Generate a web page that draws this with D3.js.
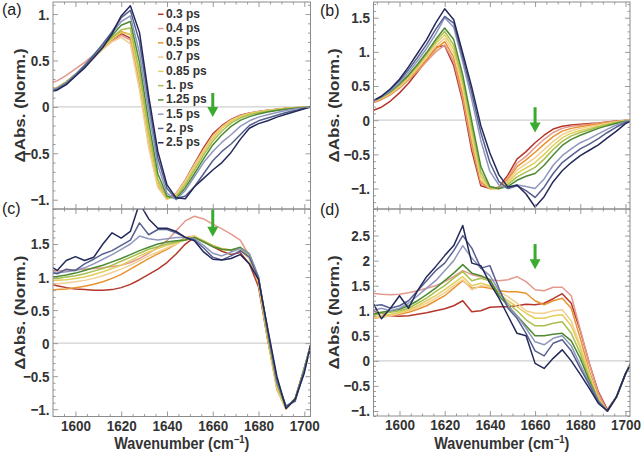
<!DOCTYPE html>
<html>
<head>
<meta charset="utf-8">
<script src="https://cdn.jsdelivr.net/npm/d3@7"></script>
<style>
  body { margin: 0; background: #fff; }
  svg { display: block; font-family: "Liberation Sans", Arial, sans-serif; }
  .tick line { stroke: #9a9a9a; }
  .tick text { font-size: 15.5px; font-weight: bold; fill: #333; }
</style>
</head>
<body>
<svg width="642" height="453"></svg>
<script>
const wavenumbers = [1588,1592,1596,1600,1604,1608,1612,1616,1620,1624,1628,1632,1636,1640,1644,
  1648,1652,1656,1660,1664,1668,1672,1676,1680,1684,1688,1692,1696,1700,1703];

const delays = ['0.3 ps','0.4 ps','0.5 ps','0.7 ps','0.85 ps','1. ps','1.25 ps','1.5 ps','2. ps','2.5 ps'];
const colors = ['#b5372c','#e5988c','#e8932f','#f2cf92','#e2cf5c','#a9bf4e','#4c8a34','#8f97bd','#56608f','#23295a'];

// (a)
const panelA = [
  [.20,.21,.26,.34,.43,.53,.63,.72,.79,.74,.25,-.38,-.84,-.99,-.94,-.79,-.61,-.44,-.29,-.20,-.135,-.09,-.065,-.05,-.035,-.025,-.015,-.008,-.003,0],
  [.25,.28,.34,.41,.48,.56,.64,.71,.77,.72,.22,-.40,-.85,-.99,-.93,-.79,-.62,-.46,-.31,-.21,-.14,-.095,-.07,-.05,-.037,-.027,-.017,-.009,-.004,0],
  [.19,.21,.27,.35,.44,.54,.64,.74,.81,.78,.30,-.34,-.82,-.99,-.95,-.80,-.63,-.47,-.32,-.22,-.145,-.10,-.07,-.052,-.038,-.027,-.017,-.009,-.004,0],
  [.19,.21,.27,.35,.44,.53,.62,.70,.75,.68,.18,-.44,-.87,-1.0,-.94,-.80,-.63,-.47,-.32,-.22,-.145,-.10,-.07,-.052,-.038,-.027,-.017,-.009,-.004,0],
  [.18,.20,.27,.35,.44,.54,.64,.73,.80,.78,.30,-.35,-.83,-.99,-.96,-.82,-.65,-.49,-.34,-.23,-.155,-.105,-.075,-.055,-.04,-.029,-.018,-.01,-.004,0],
  [.18,.20,.27,.35,.44,.54,.65,.75,.83,.85,.38,-.26,-.78,-.98,-.97,-.84,-.68,-.52,-.37,-.26,-.175,-.12,-.085,-.063,-.046,-.033,-.021,-.012,-.005,0],
  [.18,.20,.26,.35,.45,.55,.66,.77,.88,.92,.48,-.16,-.72,-.96,-.99,-.87,-.72,-.56,-.41,-.30,-.21,-.145,-.105,-.077,-.056,-.04,-.026,-.015,-.006,0],
  [.18,.20,.26,.35,.45,.56,.67,.79,.92,.98,.58,-.05,-.63,-.93,-1.0,-.90,-.75,-.60,-.48,-.38,-.30,-.21,-.15,-.11,-.085,-.06,-.04,-.022,-.009,0],
  [.17,.19,.25,.34,.44,.56,.68,.81,.96,1.04,.70,.05,-.55,-.88,-.99,-.96,-.86,-.72,-.58,-.48,-.40,-.30,-.20,-.15,-.12,-.09,-.06,-.04,-.015,0],
  [.16,.18,.24,.33,.42,.53,.64,.79,.98,1.09,.80,.12,-.48,-.84,-.98,-.99,-.86,-.77,-.68,-.60,-.49,-.35,-.23,-.18,-.15,-.11,-.08,-.05,-.02,0]
];

// (b)
const panelB = [
  [.14,.19,.28,.40,.54,.71,.88,1.07,1.09,.80,.27,-.45,-.96,-1.0,-.98,-.80,-.57,-.46,-.33,-.22,-.13,-.09,-.07,-.06,-.05,-.04,-.025,-.012,-.004,0],
  [.25,.30,.37,.47,.59,.72,.86,1.0,1.10,.86,.32,-.38,-.92,-1.0,-1.0,-.84,-.63,-.53,-.40,-.28,-.18,-.12,-.09,-.075,-.06,-.045,-.03,-.015,-.005,0],
  [.26,.31,.38,.48,.60,.74,.89,1.04,1.15,.92,.38,-.32,-.90,-1.0,-1.0,-.87,-.68,-.58,-.47,-.35,-.24,-.16,-.12,-.095,-.075,-.055,-.035,-.018,-.006,0],
  [.27,.32,.39,.49,.61,.76,.92,1.08,1.20,.98,.45,-.25,-.87,-1.0,-1.0,-.89,-.73,-.64,-.55,-.43,-.31,-.21,-.155,-.12,-.095,-.07,-.045,-.024,-.008,0],
  [.28,.33,.40,.50,.63,.78,.95,1.12,1.25,1.04,.52,-.18,-.82,-1.0,-1.0,-.91,-.78,-.70,-.62,-.50,-.37,-.26,-.19,-.15,-.12,-.085,-.055,-.03,-.01,0],
  [.28,.33,.41,.52,.65,.80,.97,1.15,1.30,1.10,.58,-.10,-.76,-.99,-1.0,-.94,-.83,-.76,-.69,-.57,-.43,-.31,-.23,-.18,-.14,-.10,-.065,-.035,-.012,0],
  [.28,.34,.42,.53,.66,.82,.99,1.18,1.35,1.18,.66,-.02,-.68,-.97,-1.0,-.97,-.88,-.82,-.78,-.66,-.51,-.37,-.28,-.22,-.17,-.12,-.08,-.045,-.015,0],
  [.27,.34,.43,.55,.70,.87,1.05,1.26,1.50,1.36,.85,.30,-.30,-.75,-.95,-1.0,-.95,-.97,-1.0,-.86,-.66,-.52,-.42,-.33,-.27,-.20,-.13,-.07,-.025,0],
  [.27,.35,.45,.58,.74,.92,1.11,1.33,1.52,1.42,.92,.40,-.18,-.62,-.90,-1.0,-.96,-1.03,-1.13,-.98,-.78,-.62,-.52,-.42,-.35,-.27,-.18,-.10,-.035,0],
  [.28,.35,.46,.60,.78,.98,1.18,1.42,1.63,1.47,.98,.48,-.08,-.48,-.80,-.98,-.95,-1.08,-1.27,-1.12,-.90,-.74,-.62,-.52,-.44,-.36,-.26,-.16,-.05,0]
];

// (c)
const panelC = [
  [.90,.87,.84,.82,.81,.80,.80,.81,.84,.89,.96,1.04,1.12,1.22,1.35,1.50,1.60,1.54,1.46,1.39,1.34,1.37,1.20,.85,.05,-.62,-.98,-.84,-.38,0],
  [1.10,1.09,1.10,1.11,1.12,1.13,1.14,1.16,1.18,1.22,1.28,1.36,1.45,1.55,1.70,1.85,1.92,1.88,1.80,1.73,1.65,1.56,1.32,.92,.10,-.60,-.98,-.84,-.38,0],
  [.80,.81,.82,.84,.86,.89,.93,.98,1.04,1.12,1.20,1.28,1.35,1.42,1.50,1.60,1.62,1.54,1.48,1.42,1.40,1.43,1.28,.90,.05,-.70,-1.0,-.84,-.38,0],
  [.90,.90,.91,.93,.95,.98,1.02,1.07,1.12,1.18,1.25,1.32,1.38,1.44,1.50,1.58,1.62,1.55,1.48,1.43,1.41,1.43,1.28,.92,.08,-.68,-1.0,-.84,-.38,0],
  [.94,.95,.96,.98,1.00,1.04,1.08,1.13,1.18,1.25,1.32,1.38,1.43,1.48,1.52,1.56,1.61,1.55,1.48,1.43,1.41,1.44,1.30,.95,.10,-.65,-.99,-.84,-.38,0],
  [.97,.98,1.00,1.02,1.05,1.09,1.13,1.18,1.24,1.30,1.36,1.42,1.46,1.50,1.53,1.56,1.60,1.54,1.47,1.42,1.40,1.44,1.32,.97,.12,-.62,-.98,-.84,-.38,0],
  [1.00,1.01,1.03,1.06,1.10,1.14,1.18,1.23,1.28,1.34,1.40,1.45,1.50,1.53,1.55,1.56,1.60,1.53,1.46,1.42,1.41,1.45,1.35,1.00,.15,-.60,-.97,-.84,-.38,0],
  [1.06,1.06,1.08,1.10,1.14,1.20,1.27,1.34,1.42,1.50,1.62,1.58,1.56,1.58,1.60,1.60,1.58,1.48,1.36,1.32,1.38,1.43,1.35,1.00,.18,-.58,-.96,-.86,-.40,0],
  [1.08,1.05,1.12,1.10,1.20,1.27,1.35,1.40,1.48,1.56,1.82,1.64,1.72,1.72,1.67,1.60,1.56,1.44,1.30,1.26,1.32,1.40,1.30,.98,.20,-.55,-.95,-.88,-.42,0],
  [1.19,1.10,1.25,1.31,1.25,1.30,1.50,1.67,1.59,1.69,2.12,1.88,1.74,1.74,1.69,1.60,1.55,1.38,1.27,1.26,1.28,1.34,1.20,.96,.22,-.50,-.99,-.85,-.45,0]
];

// (d)
const panelD = [
  [1.00,.95,.90,.89,.90,.93,.96,1.00,1.04,1.10,1.20,.98,1.00,1.07,1.08,1.08,1.10,1.13,1.12,1.15,1.24,1.34,1.15,.60,-.05,-.62,-.97,-.72,-.26,0],
  [1.35,1.33,1.32,1.33,1.36,1.40,1.45,1.50,1.58,1.68,1.80,1.72,1.68,1.62,1.60,1.62,1.68,1.58,1.42,1.40,1.47,1.47,1.30,.62,-.05,-.65,-1.0,-.72,-.26,0],
  [.85,.87,.90,.93,.97,1.03,1.10,1.20,1.30,1.45,1.60,1.45,1.48,1.45,1.40,1.38,1.38,1.35,1.20,1.12,1.20,1.25,1.05,.45,-.20,-.72,-1.0,-.72,-.26,0],
  [.86,.88,.90,.95,1.00,1.07,1.15,1.25,1.36,1.50,1.62,1.42,1.50,1.48,1.38,1.28,1.15,1.00,.95,.95,1.00,1.02,.80,.30,-.25,-.75,-1.0,-.72,-.26,0],
  [.88,.90,.93,.97,1.02,1.10,1.20,1.30,1.42,1.55,1.68,1.50,1.55,1.50,1.35,1.20,1.08,.95,.85,.85,.90,.92,.70,.25,-.30,-.78,-1.0,-.72,-.26,0],
  [.90,.95,.97,1.00,1.05,1.15,1.25,1.38,1.50,1.65,1.78,1.60,1.65,1.60,1.35,1.15,1.00,.82,.70,.70,.75,.78,.55,.15,-.35,-.78,-1.0,-.72,-.26,0],
  [.93,.97,1.00,1.03,1.10,1.20,1.32,1.45,1.60,1.75,1.92,1.75,1.70,1.62,1.30,1.10,.90,.70,.50,.50,.53,.55,.40,.05,-.40,-.80,-1.0,-.72,-.26,0],
  [1.00,1.05,1.00,1.05,1.15,1.30,1.45,1.60,1.80,2.00,2.30,2.05,1.85,1.70,1.40,1.10,.90,.65,.38,.32,.45,.50,.30,-.08,-.45,-.80,-1.0,-.72,-.26,0],
  [1.10,1.12,1.05,1.10,1.20,1.40,1.60,1.80,1.95,2.20,2.50,2.25,1.85,1.90,1.45,1.05,.85,.55,.20,.10,.35,.42,.20,-.15,-.48,-.82,-1.0,-.72,-.26,0],
  [1.18,.84,1.05,1.30,1.05,1.40,1.68,1.88,2.10,2.30,2.70,1.95,1.90,1.55,1.25,.90,.55,.50,-.05,-.15,.05,.22,.00,-.27,-.55,-.85,-1.0,-.72,-.26,0]
];

const xTicks = [1600,1620,1640,1660,1680,1700];
const yTicksA = [-1,-0.5,0,0.5,1];
const yLabelsA = ['\u22121.','\u22120.5','0','0.5','1.'];
const yTicksB = [-1,-0.5,0,0.5,1,1.5];
const yLabelsB = ['\u22121.','\u22120.5','0','0.5','1.','1.5'];
const yTicksC = [-1,-0.5,0,0.5,1,1.5];
const yLabelsC = ['\u22121.','\u22120.5','0','0.5','1.','1.5'];
const yTicksD = [-1,-0.5,0,0.5,1,1.5,2,2.5];
const yLabelsD = ['\u22121.','\u22120.5','0','0.5','1.','1.5','2','2.5'];
const arrowX = 1660;

const svg = d3.select('svg');
const squeeze = 'scale(0.87,1)';

const panels = [
  { id: 'a', series: panelA, xDomain: [1590.2, 1702.7], yDomain: [-1.10, 1.13], yTicks: yTicksA, yLabels: yLabelsA,
    box: { left: 53, right: 310.5, top: 2, bottom: 209 }, xLabels: false, arrow: [0.15, -0.11], tag: [2, 14.5], titleX: 25 },
  { id: 'b', series: panelB, xDomain: [1588.5, 1702], yDomain: [-1.30, 1.73], yTicks: yTicksB, yLabels: yLabelsB,
    box: { left: 373.5, right: 630, top: 2, bottom: 209 }, xLabels: false, arrow: [0.19, -0.18], tag: [320, 15.5], titleX: 339 },
  { id: 'c', series: panelC, xDomain: [1590.2, 1702.7], yDomain: [-1.11, 2.03], yTicks: yTicksC, yLabels: yLabelsC,
    box: { left: 53, right: 310.5, top: 209, bottom: 416.5 }, xLabels: true, arrow: [2.02, 1.61], tag: [2, 213.5], titleX: 25 },
  { id: 'd', series: panelD, xDomain: [1588.5, 1702], yDomain: [-1.10, 3.03], yTicks: yTicksD, yLabels: yLabelsD,
    box: { left: 373.5, right: 630, top: 209, bottom: 416 }, xLabels: true, arrow: [2.33, 1.83], tag: [320, 214.5], titleX: 339 }
];

const render = p => {
  const { left, right, top, bottom } = p.box;
  const xScale = d3.scaleLinear().domain(p.xDomain).range([left, right]);
  const yScale = d3.scaleLinear().domain(p.yDomain).range([bottom, top]);

  const g = svg.append('g');

  g.append('clipPath').attr('id', 'clip-' + p.id)
    .append('rect')
      .attr('x', left).attr('y', top)
      .attr('width', right - left).attr('height', bottom - top);

  g.append('line')
    .attr('x1', left).attr('x2', right)
    .attr('y1', yScale(0)).attr('y2', yScale(0))
    .attr('stroke', '#cfcfcf')
    .attr('stroke-width', 1.2);

  const lineGen = d3.line()
    .x((d, i) => xScale(wavenumbers[i]))
    .y(d => yScale(d));

  g.append('g')
    .attr('clip-path', `url(#clip-${p.id})`)
    .selectAll('path')
    .data(p.series)
    .join('path')
      .attr('d', lineGen)
      .attr('fill', 'none')
      .attr('stroke', (d, i) => colors[i])
      .attr('stroke-width', 1.5)
      .attr('stroke-linejoin', 'round');

  // frame ticks, all pointing inward
  const minorX = d3.range(1590, 1705, 5)
    .filter(v => v % 20 !== 0 && v >= p.xDomain[0] && v <= p.xDomain[1]);
  const minorY = d3.range(-13, 31).map(k => k / 10)
    .filter(v => Math.abs(v * 2 - Math.round(v * 2)) > 1e-6 && v >= p.yDomain[0] && v <= p.yDomain[1]);

  const sides = [
    [d3.axisBottom, xScale, xTicks, minorX, `translate(0,${bottom})`, p.xLabels ? d3.format('d') : () => '', 3],
    [d3.axisTop, xScale, xTicks, minorX, `translate(0,${top})`, () => '', 3],
    [d3.axisLeft, yScale, p.yTicks, minorY, `translate(${left},0)`, (d, i) => p.yLabels[i], 4],
    [d3.axisRight, yScale, p.yTicks, minorY, `translate(${right},0)`, () => '', 4]
  ];
  sides.forEach(([axisFn, scale, major, minor, tr, fmt, pad]) => {
    const majorG = g.append('g').attr('transform', tr)
      .call(axisFn(scale).tickValues(major).tickSize(-5).tickPadding(pad).tickFormat(fmt));
    majorG.select('.domain').remove();
    majorG.selectAll('text').attr('transform', squeeze);
    const minorG = g.append('g').attr('transform', tr)
      .call(axisFn(scale).tickValues(minor).tickSize(-2.5).tickFormat(() => ''));
    minorG.select('.domain').remove();
    minorG.selectAll('text').remove();
  });

  g.append('rect')
    .attr('x', left).attr('y', top)
    .attr('width', right - left).attr('height', bottom - top)
    .attr('fill', 'none')
    .attr('stroke', '#8c8c8c')
    .attr('stroke-width', 1);

  // green arrow
  const ax = xScale(arrowX);
  const y0 = yScale(p.arrow[0]);
  const y1 = yScale(p.arrow[1]);
  g.append('line')
    .attr('x1', ax).attr('x2', ax)
    .attr('y1', y0).attr('y2', y1 - 8)
    .attr('stroke', '#3bab2f')
    .attr('stroke-width', 3);
  g.append('path')
    .attr('d', `M${ax - 5.5},${y1 - 10} L${ax + 5.5},${y1 - 10} L${ax},${y1} Z`)
    .attr('fill', '#3bab2f');

  svg.append('text')
    .attr('x', p.tag[0]).attr('y', p.tag[1])
    .attr('font-size', 16)
    .attr('fill', '#222')
    .text(`(${p.id})`);

  svg.append('text')
    .attr('transform', `translate(${p.titleX},${(top + bottom) / 2}) rotate(-90) scale(1,0.86)`)
    .attr('text-anchor', 'middle')
    .attr('font-size', 17)
    .attr('font-weight', 'bold')
    .attr('fill', '#333')
    .text('\u0394Abs. (Norm.)');

  if (p.xLabels) {
    const xt = svg.append('text')
      .attr('transform', `translate(${(left + right) / 2},448.5) scale(0.9,1)`)
      .attr('text-anchor', 'middle')
      .attr('font-size', 16)
      .attr('font-weight', 'bold')
      .attr('fill', '#333');
    xt.append('tspan').text('Wavenumber (cm');
    xt.append('tspan').attr('dy', -6).attr('font-size', 10.5).text('\u22121');
    xt.append('tspan').attr('dy', 6).text(')');
  }
};

panels.forEach(render);

// legend in panel (a)
const legend = svg.append('g');
const rowY = i => 13.3 + i * 14.27;
legend.selectAll('line')
  .data(delays)
  .join('line')
    .attr('x1', 158).attr('x2', 163.5)
    .attr('y1', (d, i) => rowY(i) + 1).attr('y2', (d, i) => rowY(i) + 1)
    .attr('stroke', (d, i) => colors[i])
    .attr('stroke-width', 1.5);
legend.selectAll('text')
  .data(delays)
  .join('text')
    .attr('x', 166)
    .attr('y', (d, i) => rowY(i))
    .attr('dy', '0.36em')
    .attr('font-size', 12)
    .attr('font-weight', 'bold')
    .attr('fill', '#333')
    .text(d => d);
</script>
</body>
</html>
